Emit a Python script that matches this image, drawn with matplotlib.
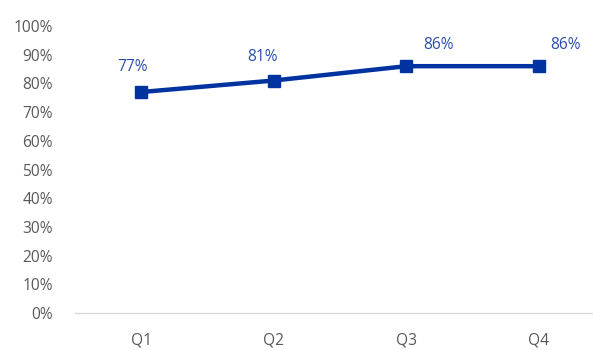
"""Quarterly rate line chart."""

import matplotlib

matplotlib.use("Agg")

import matplotlib.pyplot as plt
from matplotlib.ticker import FuncFormatter

quarters = ["Q1", "Q2", "Q3", "Q4"]
rates = [0.77, 0.81, 0.86, 0.86]
rate_labels = ["77%", "81%", "86%", "86%"]

LINE_COLOR = "#0033A0"
LABEL_COLOR = "#2A4DAE"
TEXT_GRAY = "#595959"

plt.rcParams["font.family"] = ["Open Sans", "DejaVu Sans"]

W, H = 593, 350
fig = plt.figure(figsize=(W / 100, H / 100), dpi=100)
left, right, bottom, top = 75, 605, 313, 26
ax = fig.add_axes([left / W, 1 - bottom / H, (right - left) / W, (bottom - top) / H])

x = list(range(len(quarters)))
ax.plot(x, rates, color=LINE_COLOR, linewidth=3.2, marker="s", markersize=8.5,
        solid_capstyle="round", solid_joinstyle="round", clip_on=False)

label_offsets = [(-9, 25), (-11, 24), (32, 21), (27, 21)]
for xi, yi, text, (dx, dy) in zip(x, rates, rate_labels, label_offsets):
    ax.annotate(text, (xi, yi), xytext=(dx, dy), textcoords="offset pixels",
                ha="center", va="center", color=LABEL_COLOR, fontsize=11.2)

ax.set_xlim(-0.5, 3.5)
ax.set_ylim(0, 1.0)
ax.set_yticks([i / 10 for i in range(11)])
ax.yaxis.set_major_formatter(FuncFormatter(lambda v, _: f"{v * 100:.0f}%"))
ax.set_xticks(x)
ax.set_xticklabels(quarters)
ax.tick_params(axis="both", length=0, colors=TEXT_GRAY, labelsize=11.2)
ax.tick_params(axis="y", pad=16)
ax.tick_params(axis="x", pad=14)
for lbl in ax.get_yticklabels():
    lbl.set_va("center_baseline")

for side in ["top", "right", "left"]:
    ax.spines[side].set_visible(False)
ax.spines["bottom"].set_color("#D9D9D9")
ax.spines["bottom"].set_linewidth(1.0)

fig.savefig("out.png", dpi=100)
